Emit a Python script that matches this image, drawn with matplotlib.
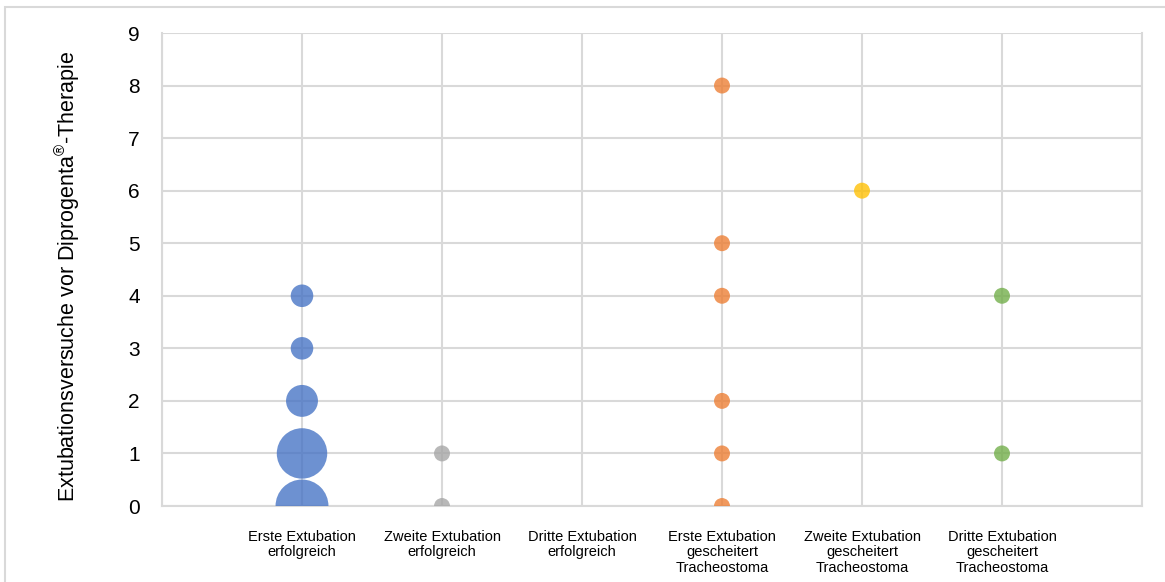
import numpy as np
import matplotlib.pyplot as plt
from matplotlib.patches import Rectangle

# --- Daten ---
categories = ["Erste Extubation\nerfolgreich", "Zweite Extubation\nerfolgreich",
              "Dritte Extubation\nerfolgreich", "Erste Extubation\ngescheitert\nTracheostoma",
              "Zweite Extubation\ngescheitert\nTracheostoma", "Dritte Extubation\ngescheitert\nTracheostoma"]

# Versuche (y) und Anzahl Patienten (Blasengroesse) je Kategorie
blue_y = [0, 1, 2, 3, 4]
blue_n = [11, 10, 4, 2, 2]
gray_y = [0, 1]
gray_n = [1, 1]
orange_y = [0, 1, 2, 4, 5, 8]
orange_n = [1, 1, 1, 1, 1, 1]
yellow_y = [6]
yellow_n = [1]
green_y = [1, 4]
green_n = [1, 1]

series = [
    (1, blue_y, blue_n, '#4472C4'),
    (2, gray_y, gray_n, '#A5A5A5'),
    (4, orange_y, orange_n, '#ED7D31'),
    (5, yellow_y, yellow_n, '#FFC000'),
    (6, green_y, green_n, '#70AD47'),
]

plt.rcParams['font.family'] = ['Liberation Sans', 'DejaVu Sans']
plt.rcParams['mathtext.fontset'] = 'custom'
plt.rcParams['mathtext.rm'] = 'Liberation Sans'

fig = plt.figure(figsize=(11.65, 5.82), dpi=100)
ax = fig.add_axes([162 / 1165, 1 - 506 / 582, (1142 - 162) / 1165, (506 - 33) / 582])

# Blasen: Flaeche proportional zur Anzahl (Radius ~9 px bei n=1)
r1 = 9 * 72 / 100  # in Punkten
for x, ys, ns, col in series:
    sizes = [np.pi * (r1 ** 2) * n for n in ns]
    ax.scatter([x] * len(ys), ys, s=sizes, color=col, alpha=0.78,
               edgecolors='none', zorder=3)

ax.set_xlim(0, 7)
ax.set_ylim(0, 9)
ax.set_xticks(range(1, 7))
ax.set_xticklabels(categories, fontsize=10.5, linespacing=1.15)
ax.set_yticks(range(0, 10))
ax.tick_params(axis='y', labelsize=15, length=0, pad=16)
ax.tick_params(axis='x', length=0, pad=17)
ax.set_xticks([0, 7], minor=True)
ax.tick_params(axis='x', which='minor', length=0)

ax.grid(True, which='both', color='#d9d9d9', linewidth=1.5, zorder=0)
ax.set_axisbelow(True)
for side in ['left', 'bottom', 'top', 'right']:
    ax.spines[side].set_color('#d9d9d9')
    ax.spines[side].set_linewidth(1.5)
ax.spines['top'].set_visible(False)

ax.set_ylabel(r"Extubationsversuche vor Diprogenta$^{\circledR}$-Therapie", fontsize=15.5, labelpad=33)
ax.yaxis.label.set_y(0.5 - 7 / 473)

# aeusserer Rahmen
fig.patches.append(Rectangle((5 / 1165, -0.1), 1.2, 1 - 7 / 582 + 0.1, transform=fig.transFigure,
                             fill=False, edgecolor='#d9d9d9', linewidth=1.5))

plt.savefig("out.png", dpi=100)
